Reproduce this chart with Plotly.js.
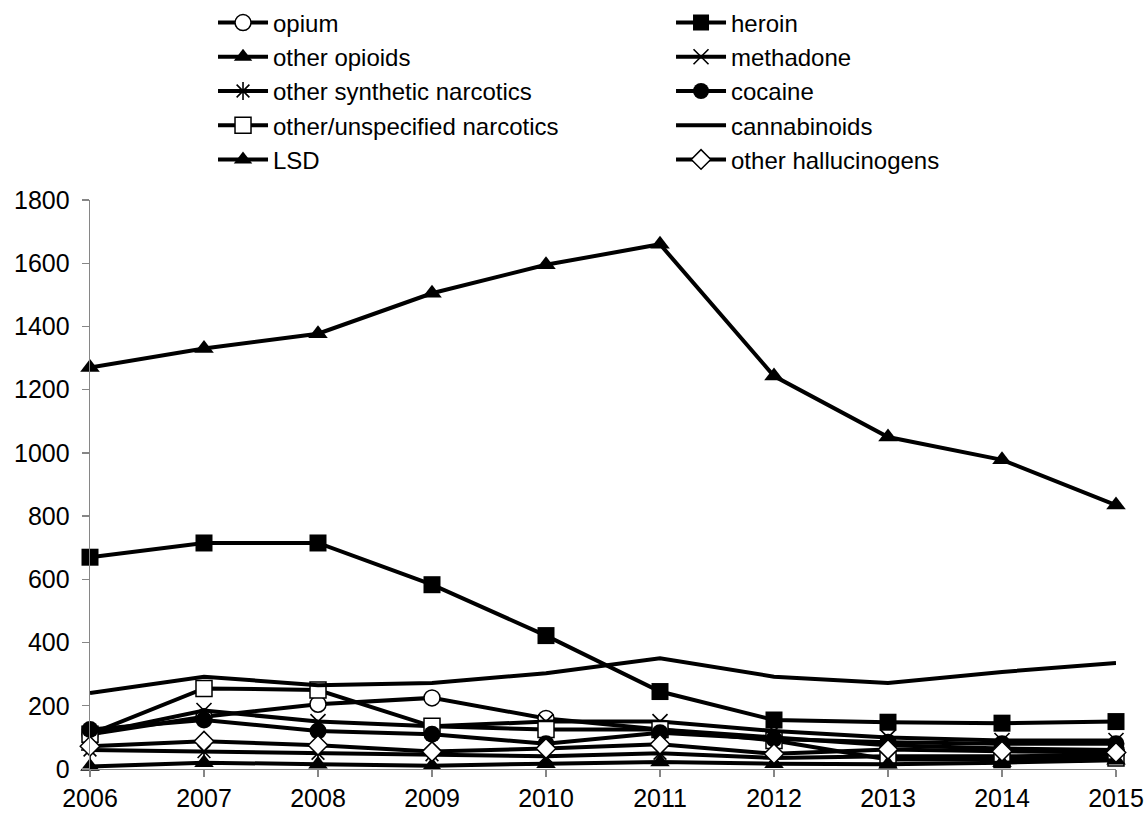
<!DOCTYPE html>
<html>
<head>
<meta charset="utf-8">
<script src="https://cdn.plot.ly/plotly-3.0.1.min.js"></script>
<style>html,body{margin:0;padding:0;background:#fff;}#chart{width:1145px;height:814px;}</style>
</head>
<body>
<div id="chart"></div>
<script>
const years = [2006, 2007, 2008, 2009, 2010, 2011, 2012, 2013, 2014, 2015];

const opium = [110, 165, 205, 225, 160, 125, 100, 75, 65, 60];
const heroin = [670, 715, 715, 583, 422, 245, 155, 148, 145, 150];
const otherOpioids = [1270, 1330, 1377, 1505, 1595, 1660, 1243, 1050, 978, 835];
const methadone = [110, 185, 150, 135, 150, 150, 120, 100, 90, 90];
const otherSynthetic = [60, 55, 50, 45, 40, 50, 35, 40, 40, 45];
const cocaine = [125, 155, 120, 110, 80, 115, 95, 85, 80, 80];
const otherUnspecified = [110, 255, 250, 135, 125, 125, 90, 30, 30, 35];
const cannabinoids = [240, 292, 265, 272, 303, 350, 292, 272, 307, 335];
const lsd = [8, 20, 15, 10, 17, 22, 17, 15, 20, 28];
const otherHallucinogens = [72, 88, 75, 55, 65, 78, 48, 62, 56, 52];

const names = ["opium", "heroin", "other opioids", "methadone", "other synthetic narcotics",
  "cocaine", "other/unspecified narcotics", "cannabinoids", "LSD", "other hallucinogens"];

const LW = 4;
function tr(name, y, marker, legend, mode) {
  return {
    type: 'scatter', x: years, y: y, name: name,
    mode: mode || 'lines+markers',
    line: {color: '#000', width: LW},
    marker: marker,
    cliponaxis: false,
    legend: legend,
    showlegend: true
  };
}
const traces = [
  tr(names[0], opium, {symbol: 'circle', size: 16, color: '#fff', line: {color: '#000', width: 1.5}}, 'legend'),
  tr(names[1], heroin, {symbol: 'square', size: 17, color: '#000'}, 'legend2'),
  tr(names[2], otherOpioids, {symbol: 'triangle-up', size: 17, color: '#000'}, 'legend'),
  tr(names[3], methadone, {symbol: 'x-thin-open', size: 15, color: '#000', line: {color: '#000', width: 1.6}}, 'legend2'),
  tr(names[4], otherSynthetic, {symbol: 'asterisk-open', size: 15, color: '#000', line: {color: '#000', width: 1.6}}, 'legend'),
  tr(names[6], otherUnspecified, {symbol: 'square', size: 16, color: '#fff', line: {color: '#000', width: 1.5}}, 'legend'),
  tr(names[5], cocaine, {symbol: 'circle', size: 17, color: '#000'}, 'legend2'),
  tr(names[7], cannabinoids, {size: 1}, 'legend2', 'lines'),
  tr(names[8], lsd, {symbol: 'triangle-up', size: 17, color: '#000'}, 'legend'),
  tr(names[9], otherHallucinogens, {symbol: 'diamond', size: 15, color: '#fff', line: {color: '#000', width: 1.5}}, 'legend2')
];

const FONT = 'Liberation Sans, Arial, sans-serif';
const legendBase = {
  orientation: 'v', xanchor: 'left', yanchor: 'top',
  font: {family: FONT, size: 24, color: '#000'},
  bgcolor: 'rgba(0,0,0,0)', borderwidth: 0,
  itemwidth: 50, tracegroupgap: 0, traceorder: 'normal',
  itemclick: false
};

const layout = {
  width: 1145, height: 814,
  margin: {l: 90, r: 29, t: 200, b: 45, pad: 0, autoexpand: false},
  paper_bgcolor: '#fff', plot_bgcolor: '#fff',
  font: {family: FONT, size: 25, color: '#000'},
  showlegend: true,
  legend: Object.assign({}, legendBase, {x: 0.1199, y: 1.3506}),
  legend2: Object.assign({}, legendBase, {x: 0.5663, y: 1.3506}),
  xaxis: {
    type: 'linear', range: [2006, 2015],
    tickmode: 'array', tickvals: years, ticktext: years.map(String),
    tickangle: 0,
    showgrid: false, zeroline: false,
    showline: true, linecolor: '#868686', linewidth: 1.3,
    ticks: 'outside', ticklen: 7, tickcolor: '#868686', tickwidth: 1.3,
    tickfont: {family: FONT, size: 25, color: '#000'}
  },
  yaxis: {
    range: [0, 1800], tickmode: 'linear', tick0: 0, dtick: 200,
    showgrid: false, zeroline: false,
    showline: true, linecolor: '#868686', linewidth: 1.3,
    ticks: 'outside', ticklen: 7, tickcolor: '#868686', tickwidth: 1.3,
    ticklabelstandoff: 7,
    tickfont: {family: FONT, size: 25, color: '#000'}
  }
};

Plotly.newPlot('chart', traces, layout, {displayModeBar: false, staticPlot: true});
</script>
</body>
</html>
